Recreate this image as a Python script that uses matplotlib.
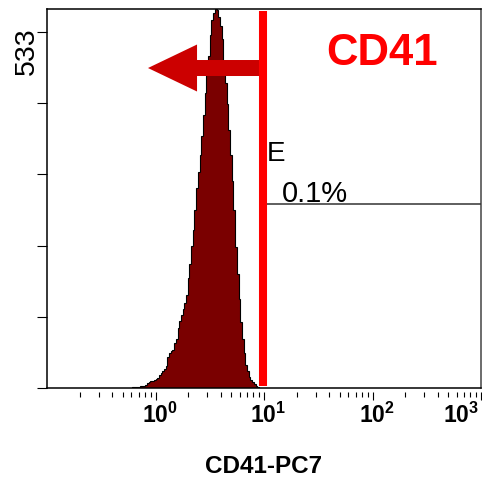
import numpy as np
import matplotlib
matplotlib.use("Agg")
import matplotlib.pyplot as plt
from matplotlib import font_manager, patches, transforms

# ---- data -------------------------------------------------------------
# Event counts per log channel (64 channels per decade, channel 0 = 10^-1)
channels_per_decade = 64
first_channel = 50
counts = [
    1, 1, 2, 2, 2, 3, 3, 3, 5, 7,            # 50-59
    9, 10, 11, 12, 13, 15, 19, 22, 25, 29,   # 60-69
    33, 46, 52, 55, 57, 67, 74, 90, 100, 110,  # 70-79
    118, 127, 140, 165, 185, 212, 237, 266, 300, 323,  # 80-89
    349, 377, 409, 441, 469, 497, 528, 551, 561, 568,  # 90-99
    566, 556, 542, 522, 490, 457, 425, 386, 349, 310,  # 100-109
    266, 211, 170, 134, 99, 73, 52, 35, 25, 16,        # 110-119
    12, 9, 6, 3, 1,                                    # 120-124
]
y_tick_max = 533
y_top = 567.5
x_range = (0.1, 1000)
major_ticks = [1, 10, 100, 1000]
major_exponents = [0, 1, 2, 3]

gate_x = 9.8            # position of the CD41 threshold
region_start = 10.66    # start of marker region E
region_level = 276      # height of the marker line
region_name = "E"
region_pct = "0.1%"
x_label = "CD41-PC7"
title = "CD41"

# ---- fonts ------------------------------------------------------------
installed = {f.name for f in font_manager.fontManager.ttflist}
narrow = "Liberation Sans Narrow" if "Liberation Sans Narrow" in installed else "Liberation Sans"
plt.rcParams["font.family"] = ["Liberation Sans", "DejaVu Sans"]
plt.rcParams["mathtext.default"] = "regular"

# ---- figure -----------------------------------------------------------
fig = plt.figure(figsize=(4.82, 4.78), dpi=100)
ax = fig.add_axes([47 / 482, 90 / 478, 434 / 482, 379 / 478])

edges = 10.0 ** (-1 + np.arange(first_channel, first_channel + len(counts) + 1) / channels_per_decade)
ax.stairs(counts, edges, fill=True, facecolor="#7a0000", edgecolor="black",
          linewidth=0.8, zorder=2)

ax.set_xscale("log")
ax.set_xlim(*x_range)
ax.set_ylim(0, y_top)

# frame: bottom spine pushed out so ticks hang below the plot with a gap
for s in ("left", "top", "right"):
    ax.spines[s].set_linewidth(1.1)
ax.spines["right"].set_color("#444444")
ax.spines["bottom"].set_position(("outward", 3))
ax.spines["bottom"].set_visible(False)
ax.plot([0, 1], [0, 0], transform=ax.transAxes, color="black", lw=1.1,
        clip_on=False, zorder=5)

ax.set_xticks(major_ticks, [r"$10^{%d}$" % e for e in major_exponents],
              fontsize=16.5, fontweight="bold", fontfamily=narrow)
ax.xaxis.set_minor_locator(matplotlib.ticker.LogLocator(base=10, subs=np.arange(2, 10)))
ax.xaxis.set_minor_formatter(matplotlib.ticker.NullFormatter())
ax.tick_params(axis="x", which="major", direction="out", length=6, width=0.8, pad=1.5)
ax.tick_params(axis="x", which="minor", direction="out", length=3.6, width=0.8)
# keep the last decade label inside the figure
last = ax.get_xticklabels()[-1]
last.set_horizontalalignment("right")
last.set_transform(last.get_transform() + transforms.ScaledTranslation(-2 / 100, 0, fig.dpi_scale_trans))
for lab in ax.get_xticklabels()[:-1]:
    lab.set_transform(lab.get_transform() + transforms.ScaledTranslation(4 / 100, 0, fig.dpi_scale_trans))

ax.set_yticks(np.linspace(0, y_tick_max, 6), [""] * 6)
ax.tick_params(axis="y", which="major", direction="out", length=7, width=0.8)
ax.annotate(str(y_tick_max), xy=(0, y_tick_max), xycoords=("axes fraction", "data"),
            xytext=(-20.5, -19.5), textcoords="offset pixels", rotation=90,
            ha="center", va="center", fontsize=20.5)

# axis title
ax.text(0.5, -0.2243, x_label, transform=ax.transAxes, ha="center",
        va="baseline", fontsize=17.5, fontweight="bold")

# marker region E
ax.plot([region_start, x_range[1]], [region_level, region_level],
        color="#333333", lw=1.1, zorder=3)
ax.text(region_start, 340, region_name, ha="left", va="baseline",
        fontsize=20, zorder=3)
ax.text(14.65, 279, region_pct, ha="left", va="baseline", fontsize=21, zorder=3)

# arrow pointing to the negative side of the threshold
arrow = patches.FancyArrow(0.493, 0.8443, -0.2603, 0, width=0.0422,
                           head_width=0.124, head_length=0.113,
                           length_includes_head=True, transform=ax.transAxes,
                           facecolor="#cc0000", edgecolor="none", zorder=4)
ax.add_patch(arrow)

# threshold line
ax.plot([gate_x, gate_x], [3, 564], color="#ff0000", lw=5.8,
        solid_capstyle="butt", zorder=6)

ax.text(0.6445, 0.852, title, transform=ax.transAxes, ha="left",
        va="baseline", fontsize=31.5, fontweight="bold", color="#ff0000")

fig.savefig("out.png", dpi=100)
